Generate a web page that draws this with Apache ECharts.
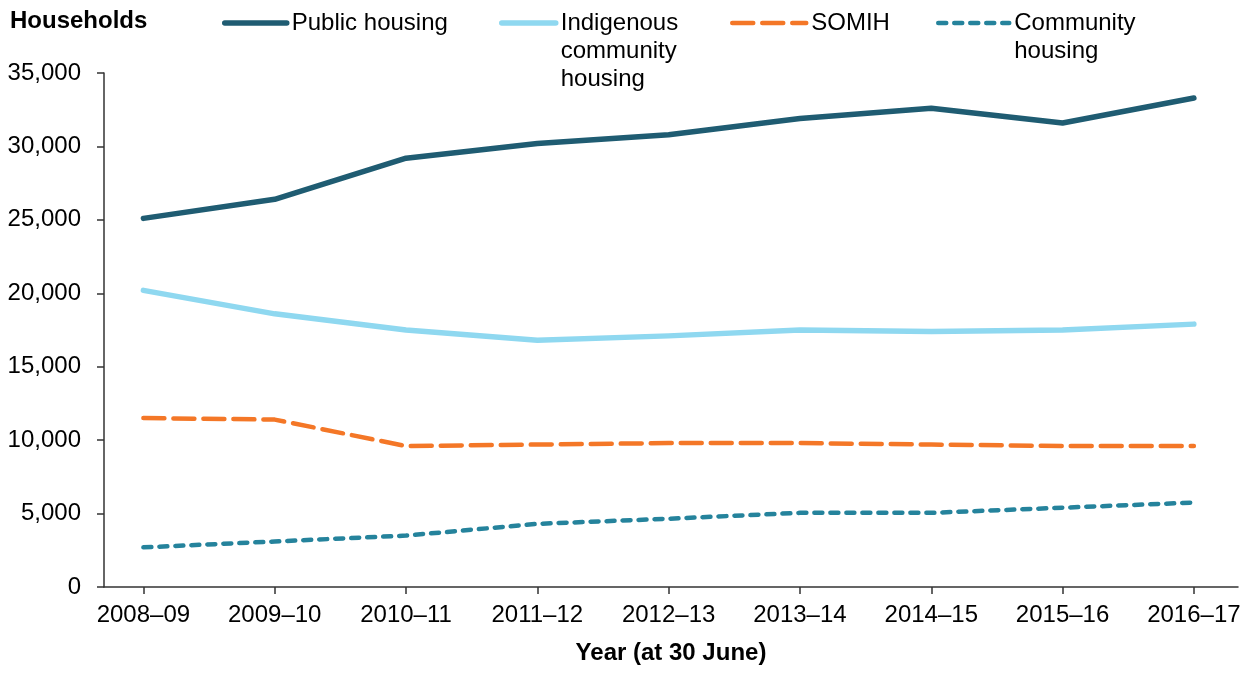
<!DOCTYPE html>
<html>
<head>
<meta charset="utf-8">
<script src="https://cdn.jsdelivr.net/npm/echarts@6/dist/echarts.min.js"></script>
<style>
html,body{margin:0;padding:0;background:#fff;}
#chart{width:1250px;height:673px;}
</style>
</head>
<body>
<div id="chart"></div>
<script>
const categories = ['2008–09','2009–10','2010–11','2011–12','2012–13','2013–14','2014–15','2015–16','2016–17'];
const publicHousing = [25100, 26400, 29200, 30200, 30800, 31900, 32600, 31600, 33300];
const indigenousHousing = [20200, 18600, 17500, 16800, 17100, 17500, 17400, 17500, 17900];
const somih = [11500, 11400, 9600, 9700, 9800, 9800, 9700, 9600, 9600];
const communityHousing = [2700, 3100, 3500, 4300, 4650, 5050, 5050, 5400, 5750];
const yTicks = [0, 5000, 10000, 15000, 20000, 25000, 30000, 35000];

const FONT = 'Liberation Sans, Arial, sans-serif';
const tickIdx = categories.map((c, i) => i);
const toPairs = arr => arr.map((v, i) => [i, v]);

const COLORS = {
  pub: '#1F5C72', ind: '#8FD8F0', somih: '#F47727', comm: '#25839C'
};

function legendBox(name, left, top, width, extraLines, line) {
  return {
    data: [name],
    left: left, top: top, padding: 0,
    orient: 'horizontal',
    itemWidth: width, itemHeight: 28, itemGap: 0,
    itemStyle: { opacity: 0 },
    lineStyle: line,
    formatter: n => '\n'.repeat(extraLines) + n,
    textStyle: { fontFamily: FONT, fontSize: 24, color: '#000', lineHeight: 28 },
    selectedMode: false
  };
}

const chart = echarts.init(document.getElementById('chart'), null, { renderer: 'canvas' });
chart.setOption({
  animation: false,
  backgroundColor: '#fff',
  title: {
    text: 'Households', left: 10, top: 8, padding: 0,
    textStyle: { fontFamily: FONT, fontSize: 24, fontWeight: 'bold', color: '#000', lineHeight: 26 }
  },
  legend: [
    legendBox('Public housing', 222, 9, 62, 0, { color: COLORS.pub, width: 5.5, cap: 'round', type: 'solid' }),
    legendBox('Indigenous\ncommunity\nhousing', 499, -47, 54, 2, { color: COLORS.ind, width: 5.5, cap: 'round', type: 'solid' }),
    legendBox('SOMIH', 730, 9, 74, 0, { color: COLORS.somih, width: 4.5, cap: 'round', type: [21, 9] }),
    legendBox('Community\nhousing', 936, -19, 71, 1, { color: COLORS.comm, width: 4.5, cap: 'round', type: [8, 8] })
  ],
  grid: { left: 104, right: 12, top: 73, bottom: 86, containLabel: false, outerBoundsMode: 'none' },
  xAxis: {
    type: 'value',
    min: -0.3, max: 8.336,
    name: 'Year (at 30 June)',
    nameLocation: 'middle',
    nameGap: 54,
    nameTextStyle: { fontFamily: FONT, fontSize: 24, fontWeight: 'bold', color: '#000' },
    axisLine: { show: true, onZero: false, lineStyle: { color: '#333', width: 1.5 } },
    axisTick: { show: true, length: 7, customValues: tickIdx, lineStyle: { color: '#333', width: 1.5 } },
    axisLabel: {
      customValues: tickIdx, margin: 16,
      fontFamily: FONT, fontSize: 24, color: '#000',
      formatter: v => categories[Math.round(v)] || ''
    },
    splitLine: { show: false }
  },
  yAxis: {
    type: 'value',
    min: 0, max: 35000, interval: 5000,
    axisLine: { show: true, onZero: false, lineStyle: { color: '#333', width: 1.5 } },
    axisTick: { show: true, length: 7, lineStyle: { color: '#333', width: 1.5 } },
    axisLabel: {
      margin: 23, fontFamily: FONT, fontSize: 24, color: '#000',
      formatter: v => yTicks.indexOf(v) >= 0 ? v.toLocaleString('en-US') : ''
    },
    splitLine: { show: false }
  },
  series: [
    {
      name: 'Public housing', type: 'line', data: toPairs(publicHousing),
      symbol: 'none', color: COLORS.pub,
      lineStyle: { color: COLORS.pub, width: 5.5, cap: 'round', join: 'round' }
    },
    {
      name: 'Indigenous\ncommunity\nhousing', type: 'line', data: toPairs(indigenousHousing),
      symbol: 'none', color: COLORS.ind,
      lineStyle: { color: COLORS.ind, width: 5.5, cap: 'round', join: 'round' }
    },
    {
      name: 'SOMIH', type: 'line', data: toPairs(somih),
      symbol: 'none', color: COLORS.somih,
      lineStyle: { color: COLORS.somih, width: 4.5, type: [21, 9], cap: 'round', join: 'round' }
    },
    {
      name: 'Community\nhousing', type: 'line', data: toPairs(communityHousing),
      symbol: 'none', color: COLORS.comm,
      lineStyle: { color: COLORS.comm, width: 4.5, type: [8, 8], cap: 'round', join: 'round' }
    }
  ]
});
</script>
</body>
</html>
